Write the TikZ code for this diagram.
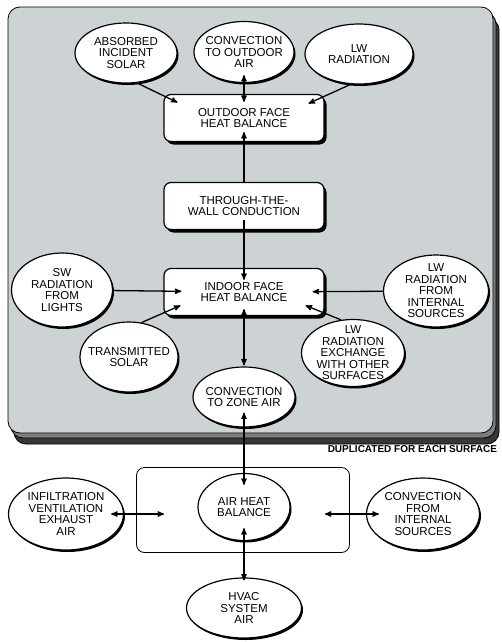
\documentclass[tikz,border=0pt]{standalone}
\usepackage{fontspec}
\setmainfont{Liberation Sans}
\usetikzlibrary{arrows,shapes.geometric,shadows,positioning}

\definecolor{panelgray}{RGB}{205,211,212}
\definecolor{shadowmid}{RGB}{125,125,125}
\definecolor{shadowdark}{RGB}{55,55,55}

\tikzset{
  src/.style={ellipse,draw,line width=1.2pt,fill=white,inner xsep=-8pt,inner ysep=-7pt,align=center,
    font=\fontsize{11.5}{11.5}\selectfont,
    drop shadow={shadow xshift=1.5pt,shadow yshift=-2pt,fill=black,opacity=1}},
  bal/.style={rectangle,rounded corners=7pt,draw,line width=1.2pt,fill=white,
    minimum width=160pt,minimum height=47pt,align=center,
    font=\fontsize{11.5}{11.5}\selectfont,
    drop shadow={shadow xshift=2.5pt,shadow yshift=-3pt,fill=black,opacity=1}},
  zonebox/.style={rectangle,rounded corners=8pt,draw,line width=0.8pt,
    minimum width=213pt,minimum height=85pt}
}

\begin{document}
\begin{tikzpicture}[>=stealth',shorten >=1pt,x=1pt,y=-1pt,line width=1.3pt]
\useasboundingbox (0,0) rectangle (502,642);

% panel for each surface
\draw[fill=shadowdark,rounded corners=12pt,line width=0.8pt] (14,18) rectangle (499,444);
\draw[fill=shadowmid,rounded corners=12pt,line width=0.8pt] (11,12) rectangle (496,438);
\draw[fill=panelgray,rounded corners=12pt,line width=0.8pt] (8,7) rectangle (493,433);

\node[src,minimum width=102pt,minimum height=60pt]	(absorbed)	at (126,53)	{ABSORBED\\INCIDENT\\SOLAR};
\node[src,minimum width=100pt,minimum height=61pt]	(convout)	at (244,52)	{CONVECTION\\TO OUTDOOR\\AIR};
\node[src,minimum width=108pt,minimum height=60pt]	(lwrad)		at (359,54)	{LW\\RADIATION};

\node[bal]	(outdoor)	at (244,118)	{OUTDOOR FACE\\HEAT BALANCE};
\node[bal]	(through)	at (244,206)	{THROUGH-THE-\\WALL CONDUCTION};
\node[bal]	(indoor)	at (244,292)	{INDOOR FACE\\HEAT BALANCE};

\node[src,minimum width=101pt,minimum height=74pt]	(swrad)		at (62,290)	{SW\\RADIATION\\FROM\\LIGHTS};
\node[src,minimum width=105pt,minimum height=72pt]	(lwint)		at (436,291)	{LW\\RADIATION\\FROM\\INTERNAL\\SOURCES};
\node[src,minimum width=98pt,minimum height=70pt]	(trans)		at (129,357)	{TRANSMITTED\\SOLAR};
\node[src,minimum width=103pt,minimum height=67pt]	(lwex)		at (353,353)	{LW\\RADIATION\\EXCHANGE\\WITH OTHER\\SURFACES};
\node[src,minimum width=102pt,minimum height=60pt]	(convzone)	at (244,397)	{CONVECTION\\TO ZONE AIR};

\node[anchor=east,font=\fontsize{10}{12}\selectfont\bfseries]	(dup)	at (501,449)	{DUPLICATED FOR EACH SURFACE};

% zone air
\node[zonebox]	(zone)	at (243,510)	{};
\node[src,minimum width=92pt,minimum height=67pt]	(airbal)	at (244,507)	{AIR HEAT\\BALANCE};
\node[src,minimum width=115pt,minimum height=72pt]	(infil)		at (66,514)	{INFILTRATION\\VENTILATION\\EXHAUST\\AIR};
\node[src,minimum width=113pt,minimum height=72pt]	(convint)	at (423,514)	{CONVECTION\\FROM\\INTERNAL\\SOURCES};
\node[src,minimum width=115pt,minimum height=60pt]	(hvac)		at (244,608)	{HVAC\\SYSTEM\\AIR};

\path[->] (absorbed.-70)	edge	([shift={(15,9)}]outdoor.north west)
(lwrad.-105)	edge	([shift={(-17,10)}]outdoor.north east)
(through)	edge[shorten >=-10pt]	(outdoor)
(through.south)	edge[shorten <=-10pt,shorten >=-12pt]	(indoor)
(swrad)	edge[shorten >=-18pt]	(indoor)
(lwint)	edge[shorten >=-12pt]	(indoor)
(trans.70)	edge	([shift={(18,-11)}]indoor.south west)
(lwex.110)	edge	([shift={(-20,-11)}]indoor.south east);

\path[<->] (convout)	edge[shorten <=-8pt,shorten >=-8pt]	(outdoor)
(indoor)	edge[shorten <=-7pt]	(convzone)
(convzone)	edge[shorten <=-15pt,shorten >=-12pt]	(airbal)
(airbal)	edge[shorten <=-13pt,shorten >=-3pt]	(hvac)
(infil.east)	edge[shorten <=-13pt,shorten >=-28pt]	(infil.east -| zone.west)
(convint.west -| zone.east)	edge[shorten <=-25pt,shorten >=-13pt]	(convint.west);
\end{tikzpicture}
\end{document}
